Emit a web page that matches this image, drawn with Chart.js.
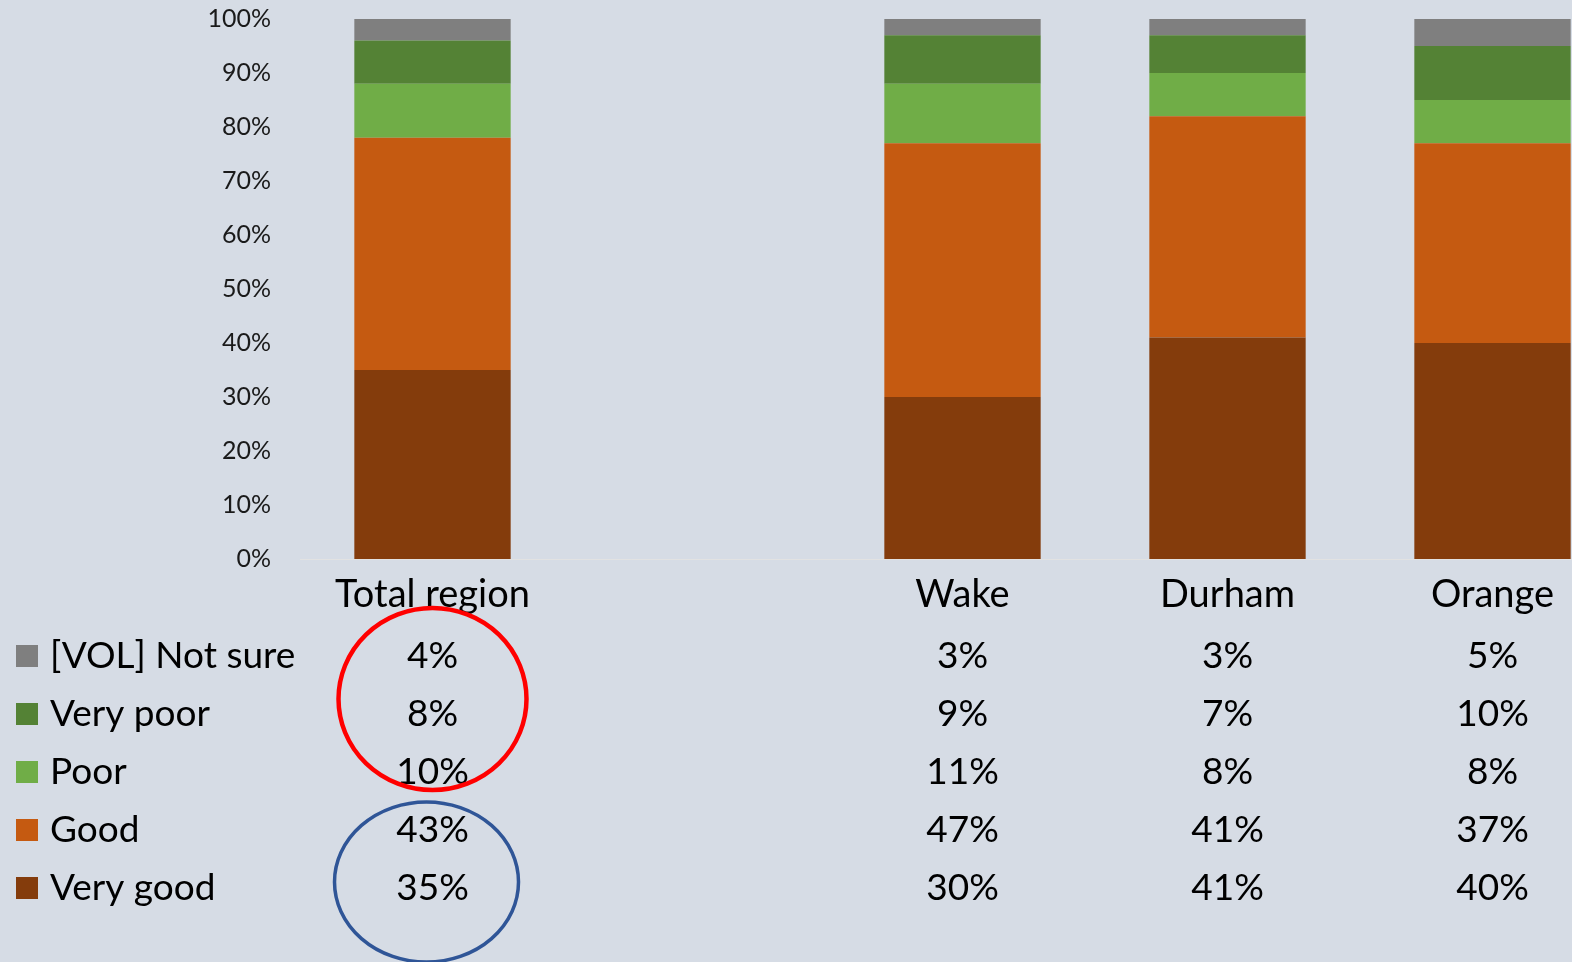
<!DOCTYPE html>
<html>
<head>
<meta charset="utf-8">
<title>Rating by county</title>
<script src="https://cdn.jsdelivr.net/npm/chart.js@4/dist/chart.umd.min.js"></script>
<style>
    html, body { margin: 0; padding: 0; background: #d6dce5; overflow: hidden; }
    canvas { display: block; }
</style>
</head>
<body>
<canvas id="rating-chart" width="1660" height="962"></canvas>
<script>
// Categories (the empty one is the gap between the region and the counties)
const categories = ['Total region', '', 'Wake', 'Durham', 'Orange'];

// Series, bottom of the stack first
const veryGood = [35, null, 30, 41, 40];
const good = [43, null, 47, 41, 37];
const poor = [10, null, 11, 8, 8];
const veryPoor = [8, null, 9, 7, 10];
const notSure = [4, null, 3, 3, 5];

const seriesNames = ['Very good', 'Good', 'Poor', 'Very poor', '[VOL] Not sure'];
const seriesColors = ['#843c0c', '#c55a11', '#70ad47', '#548235', '#7f7f7f'];

const yTickStep = 10;
const yMax = 100;

const FONT = 'Lato, "Open Sans", sans-serif';

const seriesData = [veryGood, good, poor, veryPoor, notSure];

// Draws the baseline, category names, data table with legend keys and the two hand-drawn circles
const tableBelow = {
    id: 'tableBelow',
    afterDraw(chart) {
        const ctx = chart.ctx;
        const x = chart.scales.x;
        const y = chart.scales.y;
        const area = chart.chartArea;

        ctx.save();

        // baseline
        const y0 = y.getPixelForValue(0);
        ctx.strokeStyle = '#e2e2e2';
        ctx.lineWidth = 1;
        ctx.beginPath();
        ctx.moveTo(area.left, y0 + 0.5);
        ctx.lineTo(area.right, y0 + 0.5);
        ctx.stroke();

        ctx.fillStyle = '#000';
        ctx.textAlign = 'center';
        ctx.textBaseline = 'middle';

        // category labels
        ctx.font = '38px ' + FONT;
        categories.forEach((c, i) => {
            if (c) ctx.fillText(c, x.getPixelForValue(i), y0 + 36);
        });

        // table rows, top row = top of the stack
        ctx.font = '37px ' + FONT;
        const rowTop = y0 + 97;
        const rowStep = 58;
        const rowY = r => rowTop + r * rowStep;
        const order = [4, 3, 2, 1, 0];

        order.forEach((s, r) => {
            const ry = rowY(r);
            // legend key
            ctx.fillStyle = seriesColors[s];
            ctx.fillRect(16, ry - 11, 22, 22);
            ctx.fillStyle = '#000';
            ctx.textAlign = 'left';
            ctx.fillText(seriesNames[s], 50, ry);
            ctx.textAlign = 'center';
            seriesData[s].forEach((v, i) => {
                if (v !== null) ctx.fillText(v + '%', x.getPixelForValue(i), ry);
            });
        });

        // circles around the Total region column
        const cx = x.getPixelForValue(0);
        ctx.lineWidth = 4.5;
        ctx.strokeStyle = '#ff0000';
        ctx.beginPath();
        ctx.ellipse(cx, rowY(1) - 15, 94, 91, 0, 0, Math.PI * 2);
        ctx.stroke();

        ctx.lineWidth = 3.5;
        ctx.strokeStyle = '#2f5597';
        ctx.beginPath();
        ctx.ellipse(cx - 6, (rowY(3) + rowY(4)) / 2 + 23, 92, 80, 0, 0, Math.PI * 2);
        ctx.stroke();

        ctx.restore();
    }
};

const ctx = document.getElementById('rating-chart').getContext('2d');

const chart = new Chart(ctx, {
    type: 'bar',
    data: {
        labels: categories,
        datasets: seriesData.map((d, i) => ({
            label: seriesNames[i],
            data: d,
            backgroundColor: seriesColors[i],
            borderWidth: 0,
            categoryPercentage: 1,
            barPercentage: 0.59
        }))
    },
    options: {
        responsive: false,
        animation: false,
        layout: {
            padding: { top: 19, bottom: 403, left: 0, right: 35 }
        },
        plugins: {
            legend: { display: false },
            tooltip: { enabled: false }
        },
        scales: {
            x: {
                stacked: true,
                display: false
            },
            y: {
                stacked: true,
                min: 0,
                max: yMax,
                border: { display: false },
                grid: { display: false, drawTicks: false },
                afterFit: function(scale) {
                    scale.width = 300;
                    // tick padding would otherwise push the plot down
                    scale.paddingTop = 0;
                    scale.paddingBottom = 0;
                },
                ticks: {
                    stepSize: yTickStep,
                    padding: 29,
                    color: '#1a1a1a',
                    font: { family: FONT, size: 25 },
                    callback: function(value) {
                        return value + '%';
                    }
                }
            }
        }
    },
    plugins: [tableBelow]
});
</script>
</body>
</html>
